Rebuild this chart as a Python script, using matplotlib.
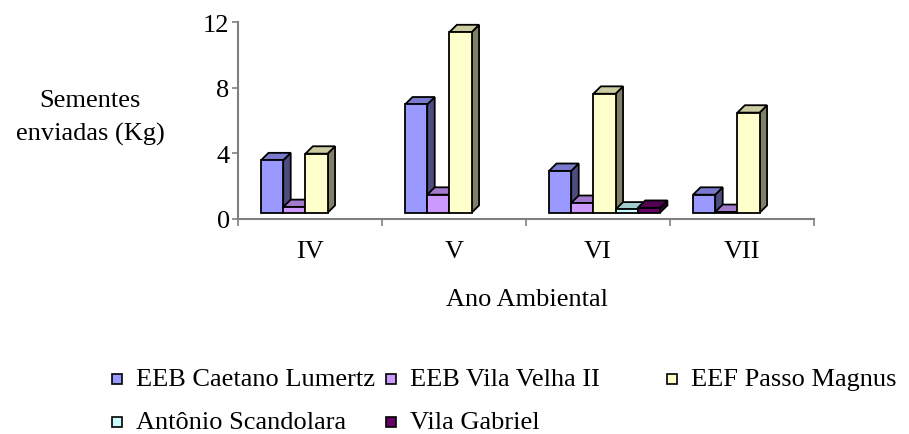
import numpy as np
import matplotlib.pyplot as plt
from matplotlib.patches import Polygon, Rectangle

plt.rcParams['font.family'] = ['Liberation Serif', 'DejaVu Serif']

categories = ["IV", "V", "VI", "VII"]
series = ["EEB Caetano Lumertz", "EEB Vila Velha II", "EEF Passo Magnus",
          "Antônio Scandolara", "Vila Gabriel"]
# None = no value sent that year
caetano = [3.2, 6.6, 2.55, 1.1]
vila_velha = [0.35, 1.1, 0.6, 0.05]
passo_magnus = [3.6, 11.0, 7.25, 6.1]
scandolara = [None, None, 0.2, None]
vila_gabriel = [None, None, 0.3, None]
values = [caetano, vila_velha, passo_magnus, scandolara, vila_gabriel]

front_colors = ["#9999FF", "#CC99FF", "#FFFFCC", "#CCFFFF", "#660066"]

FS = 19
fig = plt.figure(figsize=(9.09, 4.35), dpi=100)
ax = fig.add_axes([238 / 909, 1 - 220 / 435, 576 / 909, 197 / 435])

# fake 3d columns: front face, top face and right side
bar_w = 0.154
offset = 0.16
base = 0.38
dx, dy = 0.052, 0.45


def shade(c, f):
    r, g, b = [int(c[i:i + 2], 16) / 255 for i in (1, 3, 5)]
    return (r * f, g * f, b * f)


for j, vals in enumerate(values):
    col = front_colors[j]
    for i, v in enumerate(vals):
        if v is None:
            continue
        x0 = i + offset + j * bar_w
        x1 = x0 + bar_w
        y0, y1 = base, base + v
        kw = dict(edgecolor="black", linewidth=1.3, joinstyle="miter", clip_on=False)
        ax.add_patch(Polygon([(x1, y0), (x1 + dx, y0 + dy), (x1 + dx, y1 + dy), (x1, y1)],
                             facecolor=shade(col, 0.5), zorder=3 + j, **kw))
        ax.add_patch(Polygon([(x0, y1), (x1, y1), (x1 + dx, y1 + dy), (x0 + dx, y1 + dy)],
                             facecolor=shade(col, 0.8), zorder=3 + j, **kw))
        ax.add_patch(Rectangle((x0, y0), bar_w, v, facecolor=col, zorder=3 + j, **kw))

ax.set_xlim(0, len(categories))
ax.set_ylim(0, 12)
for s in ("top", "right"):
    ax.spines[s].set_visible(False)
for s in ("left", "bottom"):
    ax.spines[s].set_color("#808080")
    ax.spines[s].set_linewidth(1.5)

ax.set_yticks([0, 4, 8, 12])
ax.tick_params(axis="y", direction="out", length=4, width=1.2, color="#808080",
               labelsize=FS, pad=2)
ax.set_xticks(np.arange(len(categories) + 1))
ax.set_xticklabels([])
ax.set_xticks(np.arange(len(categories)) + 0.5, minor=True)
ax.set_xticklabels(categories, minor=True)
ax.tick_params(axis="x", which="major", direction="out", length=5, width=1.2, color="#808080")
ax.tick_params(axis="x", which="minor", length=0, labelsize=FS, pad=15)

fig.text(527 / 909, 1 - 300 / 435, "Ano Ambiental", ha="center", va="center", fontsize=FS)
fig.text(90 / 909, 1 - 118 / 435, "Sementes\nenviadas (Kg)", ha="center", va="center",
         multialignment="center", fontsize=FS, linespacing=1.65)

# legend
leg_pos = [(112, 380), (386, 380), (667, 380), (112, 423), (386, 423)]
for name, col, (lx, ly) in zip(series, front_colors, leg_pos):
    fig.patches.append(Rectangle((lx / 909, 1 - (ly + 5) / 435), 10 / 909, 10 / 435,
                                 facecolor=col, edgecolor="black", linewidth=1.2,
                                 transform=fig.transFigure, figure=fig))
    fig.text((lx + 24) / 909, 1 - ly / 435, name, ha="left", va="center", fontsize=FS)

fig.savefig("out.png", dpi=100)
